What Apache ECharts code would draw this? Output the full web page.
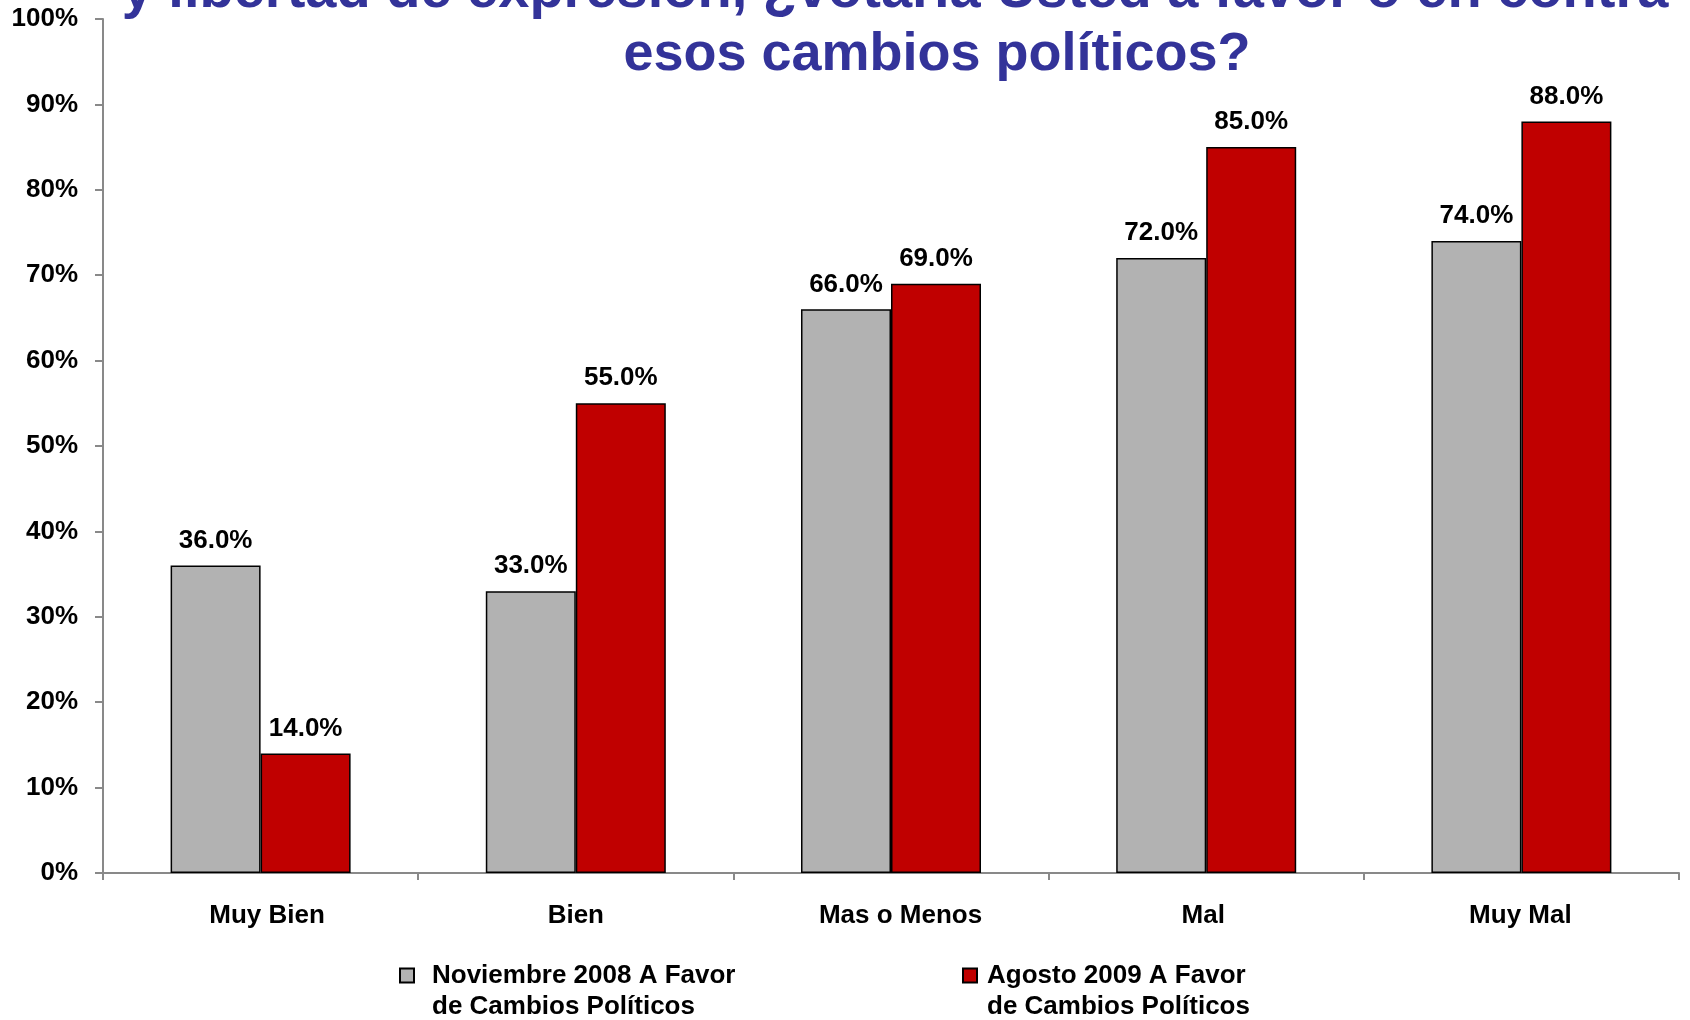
<!DOCTYPE html>
<html>
<head>
<meta charset="utf-8">
<script src="https://cdn.jsdelivr.net/npm/echarts@6/dist/echarts.min.js"></script>
<style>
html,body{margin:0;padding:0;background:#fff;}
#chart{width:1690px;height:1020px;}
</style>
</head>
<body>
<div id="chart"></div>
<script>
const titleLine1 = 'y libertad de expresión, ¿votaría Usted a favor o en contra';
const titleLine2 = 'esos cambios políticos?';
const categories = ['Muy Bien', 'Bien', 'Mas o Menos', 'Mal', 'Muy Mal'];
const seriesNames = ['Noviembre 2008 A Favor de Cambios Políticos', 'Agosto 2009 A Favor de Cambios Políticos'];
const nov2008 = [36, 33, 66, 72, 74];
const ago2009 = [14, 55, 69, 85, 88];
const yTicks = [0, 10, 20, 30, 40, 50, 60, 70, 80, 90, 100];

const FONT = "'Liberation Sans', Arial, sans-serif";
const chart = echarts.init(document.getElementById('chart'), null, {renderer: 'canvas'});

function legendText(name) {
  return ' \n' + name.replace(' de Cambios', '\nde Cambios');
}

const labelBase = {fontFamily: FONT, fontSize: 26, fontWeight: 'bold', color: '#000'};
const catRich = {
  c0: Object.assign({padding: [0, 0, 0, 13]}, labelBase),
  c1: Object.assign({padding: [0, 0, 0, 0]}, labelBase),
  c2: Object.assign({padding: [0, 0, 0, 19]}, labelBase),
  c3: Object.assign({padding: [0, 6, 0, 0]}, labelBase),
  c4: Object.assign({padding: [0, 2, 0, 0]}, labelBase)
};

const option = {
  backgroundColor: '#ffffff',
  animation: false,
  title: [
    {
      text: titleLine1, left: 890, top: -41, textAlign: 'center',
      textStyle: {fontFamily: FONT, fontSize: 56, fontWeight: 'bold', color: '#333399', lineHeight: 56}
    },
    {
      text: titleLine2, left: 932, top: 23, textAlign: 'center',
      textStyle: {fontFamily: FONT, fontSize: 54, fontWeight: 'bold', color: '#333399', lineHeight: 54}
    }
  ],
  legend: [
    {
      data: [seriesNames[0]], left: 399, top: 929, padding: 0,
      itemWidth: 14, itemHeight: 14, icon: 'rect',
      formatter: legendText,
      textStyle: {fontFamily: FONT, fontSize: 26, fontWeight: 'bold', color: '#000', lineHeight: 31, padding: [0, 0, 0, 13]}
    },
    {
      data: [seriesNames[1]], left: 962, top: 929, padding: 0,
      itemWidth: 14, itemHeight: 14, icon: 'rect',
      formatter: legendText,
      textStyle: {fontFamily: FONT, fontSize: 26, fontWeight: 'bold', color: '#000', lineHeight: 31, padding: [0, 0, 0, 5]}
    }
  ],
  grid: {left: 103, right: 11, top: 19, bottom: 147, containLabel: false},
  xAxis: {
    type: 'category',
    data: categories,
    boundaryGap: true,
    axisLine: {show: true, lineStyle: {color: '#898989', width: 2}},
    axisTick: {show: true, alignWithLabel: false, length: 7, lineStyle: {color: '#898989', width: 2}},
    axisLabel: {
      fontFamily: FONT, fontSize: 26, fontWeight: 'bold', color: '#000', margin: 30,
      formatter: (v, i) => '{c' + i + '|' + v + '}',
      rich: catRich
    },
    splitLine: {show: false}
  },
  yAxis: {
    type: 'value',
    min: yTicks[0], max: yTicks[yTicks.length - 1], interval: yTicks[1] - yTicks[0],
    axisLine: {show: true, lineStyle: {color: '#898989', width: 2}},
    axisTick: {show: true, inside: false, length: 8, lineStyle: {color: '#898989', width: 2}},
    axisLabel: {fontFamily: FONT, fontSize: 26, fontWeight: 'bold', color: '#000', margin: 25, formatter: '{value}%'},
    splitLine: {show: false}
  },
  series: [
    {
      name: seriesNames[0], type: 'bar', data: nov2008,
      barWidth: 90, barGap: '0%',
      itemStyle: {color: '#B2B2B2', borderColor: '#000', borderWidth: 1.5},
      label: {show: true, position: 'top', distance: 12, fontFamily: FONT, fontSize: 26, fontWeight: 'bold', color: '#000',
        formatter: p => p.value.toFixed(1) + '%'}
    },
    {
      name: seriesNames[1], type: 'bar', data: ago2009,
      barWidth: 90, barGap: '0%',
      itemStyle: {color: '#C00000', borderColor: '#000', borderWidth: 1.5},
      label: {show: true, position: 'top', distance: 12, fontFamily: FONT, fontSize: 26, fontWeight: 'bold', color: '#000',
        formatter: p => p.value.toFixed(1) + '%'}
    }
  ]
};
chart.setOption(option);
</script>
</body>
</html>
